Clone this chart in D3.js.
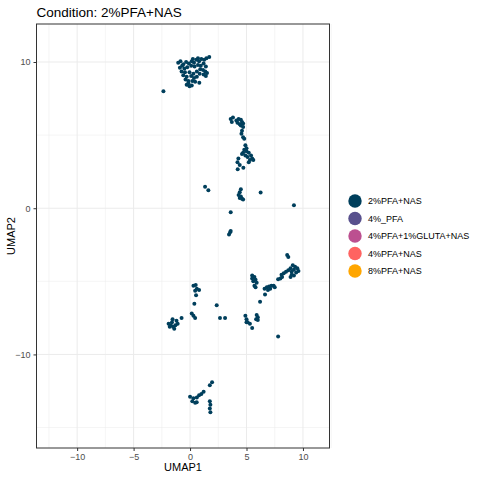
<!DOCTYPE html>
<html>
<head>
<meta charset="utf-8">
<script src="https://cdn.jsdelivr.net/npm/d3@7"></script>
<style>
body { margin: 0; background: #fff; }
text { font-family: "Liberation Sans", Arial, sans-serif; }
</style>
</head>
<body>
<div id="chart"></div>
<script>
var width = 480;
var height = 480;

// UMAP coordinates of the 2%PFA+NAS cells
var umap1 = [
  -1.05, -0.85, -0.6, -0.35, -0.1, 0.15, 0.35, 0.55, 0.8, 1.0, 1.25, 1.45, 1.7, 0.25, 0.7,
  -0.9, -0.7, -0.5, -0.75, -0.45, -0.25, -0.6, -0.3, -0.4, -0.15, -0.3, -0.05, 0.15, -0.15,
  0.1, 0.4, 0.7, 0.95, 1.2, 1.4, 0.9, 1.15, 1.35, 1.5, 1.4, 1.2, 0.85, 0.6, 0.3, 0.1, 0.35, 0.6, 0.2, 0.45, 0.82, -0.05,
  -2.36,
  3.6, 3.8, 3.7, 4.1, 4.3, 4.5, 4.6, 4.7, 4.4, 4.2, 4.5, 4.7, 4.6, 4.55, 4.7, 4.8,
  4.9, 5.0, 4.8, 4.7, 5.0, 5.2, 5.4, 5.5, 5.1, 4.9, 4.6, 5.3, 5.6, 5.2, 4.28, 4.2, 4.4, 4.22, 4.72,
  4.5, 4.4, 4.3, 4.5, 4.6, 4.4, 4.7, 6.25, 1.33, 1.62,
  9.2, 3.6, 3.45, 3.55, 3.6,
  8.6, 8.7, 9.1, 9.3, 9.5, 9.2, 8.9, 8.7, 8.5, 8.3, 8.1, 9.0, 9.4, 9.6, 9.2, 8.9, 9.0, 7.8, 8.0, 8.15,
  5.5, 5.7, 5.8, 5.6, 5.9, 5.7, 5.8, 5.5,
  6.6, 6.8, 7.0, 7.2, 7.4, 7.5, 7.1, 6.9, 6.64, 6.2,
  2.36, 2.65, 3.1, 4.9, 5.0, 5.1, 5.3, 5.5, 5.0, 5.9, 6.0, 5.85, 6.0, 7.8,
  0.3, 0.5, 0.6, 0.8, 0.45, 0.53, 0.38, 0.15, 0.3, 0.45,
  -1.9, -1.7, -1.5, -1.3, -1.6, -1.2, -1.4, -1.1, -0.75, -1.8, -1.55,
  0.0, 0.3, 0.2, 0.45, 0.6, 0.8, 1.0, 1.2, 0.59, 1.75, 1.95, 1.75, 1.8, 1.75, 1.8
];
var umap2 = [
  9.95, 10.05, 9.85, 10.0, 9.9, 10.05, 9.95, 10.15, 10.05, 10.2, 10.15, 10.25, 10.35, 10.2, 10.25,
  9.6, 9.75, 9.55, 9.35, 9.3, 9.65, 9.1, 9.0, 8.8, 8.7, 8.45, 8.35, 8.4, 8.55,
  9.75, 9.7, 9.8, 9.75, 9.9, 9.7, 9.5, 9.45, 9.35, 9.25, 9.05, 9.15, 9.2, 9.35, 9.2, 9.05, 8.9, 9.0, 8.7, 8.65, 8.58, 9.3,
  8.0,
  6.1, 6.2, 5.9, 6.0, 6.1, 6.05, 5.9, 5.8, 5.75, 5.85, 5.65, 5.55, 5.3, 5.1, 4.85, 4.75,
  4.3, 4.1, 4.0, 3.8, 3.9, 3.8, 3.6, 3.4, 3.5, 3.6, 3.7, 3.3, 3.3, 3.15, 3.4, 3.15, 2.95, 2.67, 2.76,
  1.3, 1.1, 0.9, 0.8, 0.65, 0.7, 0.6, 1.07, 1.46, 1.23,
  0.2, -0.27, -1.8, -1.65, -1.55,
  -3.2, -3.33, -3.9, -4.0, -4.1, -4.2, -4.1, -4.25, -4.35, -4.45, -4.55, -4.35, -4.4, -4.3, -4.6, -4.7, -4.55, -4.85, -4.8, -4.7,
  -4.6, -4.7, -4.9, -5.0, -5.1, -5.3, -5.4, -4.8,
  -5.5, -5.4, -5.35, -5.3, -5.3, -5.4, -5.5, -5.6, -5.9, -6.4,
  -6.64, -7.5, -7.5, -7.35, -7.6, -7.8, -7.9, -8.2, -7.8, -7.3, -7.45, -7.6, -7.65, -8.77,
  -5.3, -5.25, -5.5, -5.6, -5.65, -5.96, -6.53, -7.2, -7.35, -7.5,
  -7.9, -8.0, -8.1, -8.0, -7.8, -7.7, -8.25, -7.9, -7.5, -8.1, -7.6,
  -12.9, -13.0, -13.2, -13.3, -12.95, -12.8, -12.7, -12.55, -13.27, -12.1, -11.9, -13.2, -13.45, -13.7, -13.95
];

var conditions = ["2%PFA+NAS", "4%_PFA", "4%PFA+1%GLUTA+NAS", "4%PFA+NAS", "8%PFA+NAS"];
var colours = ["#003f5c", "#58508d", "#bc5090", "#ff6361", "#ffa600"];
var xTicks = [-10, -5, 0, 5, 10];
var yTicks = [-10, 0, 10];
var xMinor = [-12.5, -7.5, -2.5, 2.5, 7.5, 12.5];
var yMinor = [-15, -5, 5];

var points = umap1.map(function (d, i) { return { x: d, y: umap2[i] }; });

var margin = { left: 36.5, right: 150.5, top: 24, bottom: 32 };
var panelW = width - margin.left - margin.right;
var panelH = height - margin.top - margin.bottom;

var x = d3.scaleLinear().domain([-13.6, 12.35]).range([0, panelW]);
var y = d3.scaleLinear().domain([-16.4, 12.6]).range([panelH, 0]);

var svg = d3.select("#chart").append("svg").attr("width", width).attr("height", height);
var panel = svg.append("g").attr("transform", "translate(" + margin.left + "," + margin.top + ")");

// grid
panel.selectAll(".xminor").data(xMinor).enter().append("line")
  .attr("x1", x).attr("x2", x).attr("y1", 0).attr("y2", panelH)
  .attr("stroke", "#ebebeb").attr("stroke-width", 0.5);
panel.selectAll(".yminor").data(yMinor).enter().append("line")
  .attr("y1", y).attr("y2", y).attr("x1", 0).attr("x2", panelW)
  .attr("stroke", "#ebebeb").attr("stroke-width", 0.5);
panel.selectAll(".xmajor").data(xTicks).enter().append("line")
  .attr("x1", x).attr("x2", x).attr("y1", 0).attr("y2", panelH)
  .attr("stroke", "#ebebeb").attr("stroke-width", 1);
panel.selectAll(".ymajor").data(yTicks).enter().append("line")
  .attr("y1", y).attr("y2", y).attr("x1", 0).attr("x2", panelW)
  .attr("stroke", "#ebebeb").attr("stroke-width", 1);

// points
panel.append("g").selectAll("circle").data(points).enter().append("circle")
  .attr("cx", function (d) { return x(d.x); })
  .attr("cy", function (d) { return y(d.y); })
  .attr("r", 2)
  .attr("fill", colours[0]);

panel.append("rect").attr("width", panelW).attr("height", panelH)
  .attr("fill", "none").attr("stroke", "#333333").attr("stroke-width", 1);

// axes
var xAxis = panel.append("g").attr("transform", "translate(0," + panelH + ")")
  .call(d3.axisBottom(x).tickValues(xTicks).tickSize(3).tickPadding(3));
var yAxis = panel.append("g")
  .call(d3.axisLeft(y).tickValues(yTicks).tickSize(3).tickPadding(3));
[xAxis, yAxis].forEach(function (a) {
  a.select(".domain").remove();
  a.selectAll(".tick line").attr("stroke", "#333333");
  a.selectAll(".tick text").attr("fill", "#4d4d4d").style("font-size", "9px")
    .style("font-family", "Liberation Sans, Arial, sans-serif");
});

svg.append("text").attr("x", margin.left + panelW / 2).attr("y", 471)
  .attr("text-anchor", "middle").style("font-size", "11px").text("UMAP1");
svg.append("text").attr("transform", "translate(15," + (margin.top + panelH / 2) + ") rotate(-90)")
  .attr("text-anchor", "middle").style("font-size", "11px").text("UMAP2");
svg.append("text").attr("x", margin.left).attr("y", 17)
  .style("font-size", "13.5px").text("Condition: 2%PFA+NAS");

// legend
var legend = svg.append("g").attr("transform", "translate(355,201)");
var item = legend.selectAll("g").data(conditions).enter().append("g")
  .attr("transform", function (d, i) { return "translate(0," + (i * 17.5) + ")"; });
item.append("circle").attr("r", 6.7).attr("fill", function (d, i) { return colours[i]; });
item.append("text").attr("x", 13).attr("dy", "0.35em").style("font-size", "9px").text(function (d) { return d; });
</script>
</body>
</html>
